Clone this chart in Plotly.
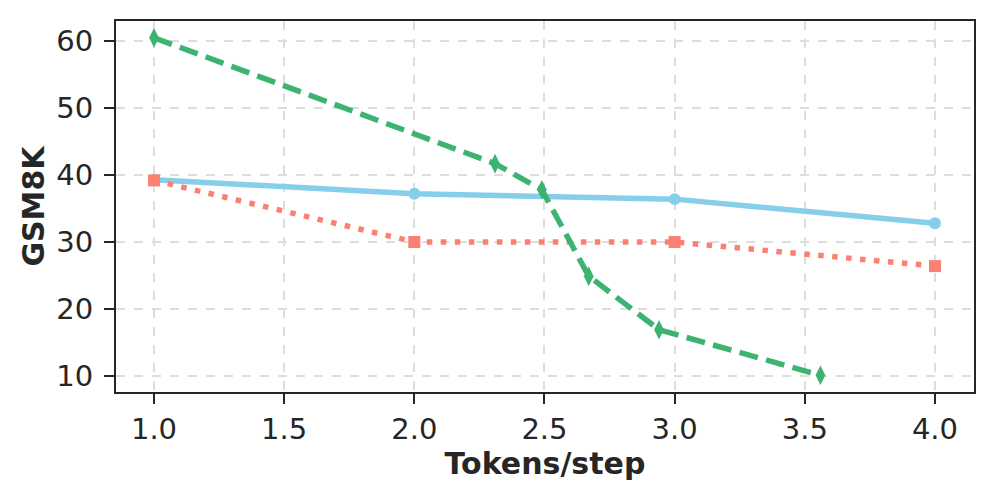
import plotly.graph_objects as go

blue_x = [1.0, 2.0, 3.0, 4.0]
blue_y = [39.3, 37.2, 36.4, 32.8]

red_x = [1.0, 2.0, 3.0, 4.0]
red_y = [39.2, 30.0, 30.0, 26.4]

green_x = [1.0, 2.31, 2.49, 2.67, 2.94, 3.56]
green_y = [60.5, 41.7, 37.8, 24.9, 16.9, 10.1]

x_ticks = [1.0, 1.5, 2.0, 2.5, 3.0, 3.5, 4.0]
y_ticks = [10, 20, 30, 40, 50, 60]

FONT = "DejaVu Sans"
INK = "#262626"
LW = 5.5

fig = go.Figure()
fig.add_trace(go.Scatter(
    x=blue_x, y=blue_y, mode="lines+markers",
    line=dict(color="#87CEEB", width=LW),
    marker=dict(symbol="circle", size=12, color="#87CEEB"),
))
fig.add_trace(go.Scatter(
    x=red_x, y=red_y, mode="lines+markers",
    line=dict(color="#FA8072", width=LW, dash="5.5px,8.5px"),
    marker=dict(symbol="square", size=12, color="#FA8072"),
))
fig.add_trace(go.Scatter(
    x=green_x, y=green_y, mode="lines+markers",
    line=dict(color="#3CB371", width=LW, dash="19px,8.5px"),
    marker=dict(symbol="diamond-tall", size=14, color="#3CB371"),
))

axis_common = dict(
    showline=True, linecolor=INK, linewidth=2, mirror=True,
    ticks="outside", ticklen=10, tickwidth=2, tickcolor=INK,
    showgrid=True, gridcolor="#dddddd", griddash="dash", gridwidth=1.5,
    zeroline=False, automargin=False,
    tickfont=dict(family=FONT, size=29, color=INK),
)

fig.update_xaxes(
    range=[0.854, 4.15], tickvals=x_ticks, ticktext=[f"{v:.1f}" for v in x_ticks],
    title=dict(text="<b>Tokens/step</b>", font=dict(family=FONT, size=30, color=INK), standoff=4),
    **axis_common,
)
fig.update_yaxes(
    range=[7.6, 63.0], tickvals=y_ticks, ticklabelstandoff=5,
    title=dict(text="<b>GSM8K</b>", font=dict(family=FONT, size=30, color=INK), standoff=3),
    **axis_common,
)

# page body adds ~8px offset, so the figure is shrunk by that much
fig.update_layout(
    width=989, height=490,
    margin=dict(l=108, r=23, t=13, b=106),
    plot_bgcolor="white", paper_bgcolor="white",
    showlegend=False,
)

fig.write_html("out.html")
